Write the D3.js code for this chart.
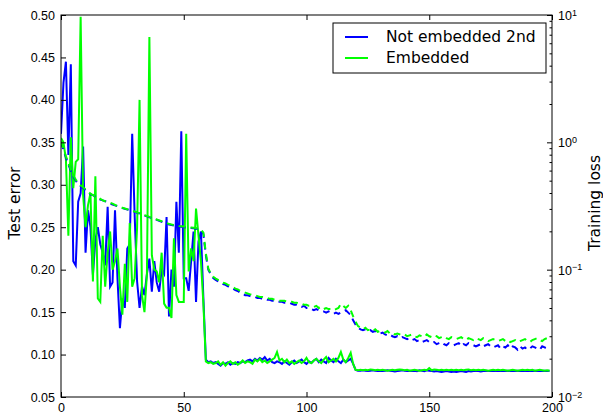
<!DOCTYPE html>
<html>
<head>
<meta charset="utf-8">
<script src="https://cdn.jsdelivr.net/npm/d3@7"></script>
<style>
  body { margin: 0; background: #fff; }
  svg { font-family: "DejaVu Sans", sans-serif; }
</style>
</head>
<body>
<div id="chart"></div>
<script>
// test error, not embedded 2nd (epochs 0..199)
const errNotEmb = [
  0.36, 0.42, 0.445, 0.335, 0.442, 0.21, 0.205, 0.28, 0.29, 0.345,
  0.22, 0.27, 0.25, 0.194, 0.235, 0.25, 0.23, 0.22, 0.205, 0.274,
  0.18, 0.185, 0.27, 0.19, 0.131, 0.166, 0.155, 0.225, 0.23, 0.36,
  0.264, 0.186, 0.155, 0.18, 0.17, 0.195, 0.213, 0.174, 0.21, 0.185,
  0.174, 0.2, 0.195, 0.262, 0.145, 0.2, 0.18, 0.28, 0.22, 0.363,
  0.19, 0.19, 0.175, 0.21, 0.245, 0.162, 0.233, 0.245, 0.166, 0.094,
  0.091, 0.092, 0.090, 0.091, 0.089, 0.087, 0.090, 0.089, 0.091, 0.088,
  0.090, 0.089, 0.091, 0.090, 0.092, 0.091, 0.093, 0.094, 0.092, 0.095,
  0.093, 0.096, 0.094, 0.097, 0.093, 0.095, 0.091, 0.090, 0.092, 0.091,
  0.089, 0.092, 0.090, 0.088, 0.091, 0.093, 0.090, 0.092, 0.094, 0.091,
  0.089, 0.092, 0.090, 0.093, 0.095, 0.091, 0.094, 0.092, 0.090, 0.096,
  0.093, 0.091, 0.095, 0.092, 0.090, 0.094, 0.091, 0.093, 0.095, 0.089,
  0.082, 0.081, 0.081, 0.0815, 0.081, 0.0805, 0.081, 0.0815, 0.081, 0.0805,
  0.081, 0.0805, 0.081, 0.0815, 0.081, 0.0805, 0.080, 0.0805, 0.081, 0.0815,
  0.081, 0.0805, 0.081, 0.0805, 0.081, 0.0805, 0.0815, 0.081, 0.0805, 0.0815,
  0.081, 0.0805, 0.080, 0.0805, 0.080, 0.0795, 0.080, 0.0805, 0.080, 0.0795,
  0.080, 0.0795, 0.080, 0.0805, 0.080, 0.0795, 0.0805, 0.080, 0.0805, 0.081,
  0.0805, 0.080, 0.0805, 0.081, 0.0805, 0.0805, 0.081, 0.0805, 0.081, 0.0805,
  0.081, 0.0805, 0.081, 0.0805, 0.081, 0.0805, 0.081, 0.0805, 0.0805, 0.081,
  0.0805, 0.081, 0.0805, 0.081, 0.0805, 0.081, 0.0805, 0.081, 0.0805, 0.081
];

// test error, embedded
const errEmb = [
  0.355, 0.35, 0.33, 0.24, 0.356, 0.296, 0.327, 0.33, 0.498, 0.288,
  0.25, 0.276, 0.29, 0.186, 0.31, 0.166, 0.162, 0.24, 0.18, 0.22,
  0.245, 0.20, 0.21, 0.225, 0.18, 0.147, 0.207, 0.162, 0.255, 0.18,
  0.19, 0.25, 0.40, 0.17, 0.15, 0.195, 0.474, 0.217, 0.20, 0.198,
  0.185, 0.22, 0.16, 0.155, 0.155, 0.143, 0.237, 0.17, 0.162, 0.162,
  0.162, 0.36, 0.198, 0.225, 0.21, 0.272, 0.24, 0.21, 0.16, 0.092,
  0.090, 0.091, 0.089, 0.090, 0.092, 0.088, 0.091, 0.087, 0.090, 0.092,
  0.089, 0.091, 0.088, 0.090, 0.093, 0.090, 0.092, 0.091, 0.089, 0.094,
  0.092, 0.095, 0.091, 0.093, 0.090, 0.092, 0.094, 0.096, 0.103, 0.093,
  0.095, 0.091, 0.094, 0.090, 0.092, 0.089, 0.091, 0.093, 0.090, 0.092,
  0.096, 0.091, 0.090, 0.093, 0.095, 0.092, 0.090, 0.094, 0.097, 0.091,
  0.093, 0.095, 0.092, 0.096, 0.103, 0.094, 0.091, 0.096, 0.102, 0.089,
  0.082, 0.0815, 0.082, 0.0815, 0.082, 0.0815, 0.0825, 0.082, 0.0815, 0.082,
  0.0815, 0.082, 0.0815, 0.081, 0.0815, 0.082, 0.0815, 0.082, 0.0825, 0.082,
  0.0815, 0.082, 0.081, 0.0815, 0.082, 0.0815, 0.081, 0.0815, 0.082, 0.0815,
  0.084, 0.0815, 0.0825, 0.082, 0.0815, 0.082, 0.0815, 0.082, 0.0815, 0.082,
  0.0815, 0.082, 0.0815, 0.082, 0.0815, 0.082, 0.0825, 0.0815, 0.082, 0.0815,
  0.082, 0.0815, 0.082, 0.0815, 0.081, 0.0815, 0.082, 0.0815, 0.082, 0.0815,
  0.082, 0.0815, 0.081, 0.0815, 0.082, 0.0815, 0.081, 0.0815, 0.082, 0.0815,
  0.082, 0.0815, 0.082, 0.081, 0.0815, 0.082, 0.0815, 0.081, 0.0815, 0.081
];

// training loss, not embedded 2nd
const lossNotEmb = [
  1.0, 0.87, 0.76, 0.67, 0.6, 0.54, 0.5, 0.47, 0.45, 0.44,
  0.42, 0.41, 0.39, 0.385, 0.375, 0.365, 0.355, 0.35, 0.345, 0.34,
  0.33, 0.325, 0.32, 0.315, 0.31, 0.305, 0.3, 0.297, 0.294, 0.29,
  0.285, 0.28, 0.276, 0.27, 0.266, 0.262, 0.258, 0.254, 0.25, 0.246,
  0.242, 0.238, 0.234, 0.23, 0.226, 0.224, 0.222, 0.22, 0.218, 0.217,
  0.216, 0.214, 0.213, 0.212, 0.211, 0.21, 0.207, 0.205, 0.19, 0.13,
  0.10, 0.092, 0.086, 0.083, 0.081, 0.079, 0.077, 0.076, 0.074, 0.073,
  0.071, 0.069, 0.068, 0.066, 0.065, 0.063, 0.063, 0.062, 0.061, 0.061,
  0.060, 0.060, 0.059, 0.059, 0.058, 0.058, 0.057, 0.057, 0.056, 0.056,
  0.056, 0.055, 0.055, 0.055, 0.054, 0.053, 0.053, 0.052, 0.051, 0.052,
  0.050, 0.050, 0.049, 0.048, 0.049, 0.048, 0.047, 0.047, 0.046, 0.047,
  0.046, 0.045, 0.046, 0.045, 0.046, 0.047, 0.048, 0.046, 0.044, 0.040,
  0.037, 0.035, 0.034, 0.0335, 0.034, 0.033, 0.0335, 0.0325, 0.033, 0.032,
  0.0315, 0.032, 0.031, 0.0305, 0.031, 0.030, 0.0295, 0.030, 0.029, 0.0295,
  0.029, 0.0285, 0.029, 0.028, 0.0285, 0.0275, 0.028, 0.027, 0.0275, 0.028,
  0.027, 0.0265, 0.027, 0.026, 0.0265, 0.027, 0.026, 0.0255, 0.0265, 0.026,
  0.0255, 0.026, 0.0265, 0.025, 0.026, 0.0255, 0.0265, 0.026, 0.0255, 0.025,
  0.0255, 0.026, 0.025, 0.0255, 0.026, 0.025, 0.0245, 0.025, 0.0255, 0.024,
  0.025, 0.0245, 0.0255, 0.024, 0.025, 0.0245, 0.0235, 0.025, 0.024, 0.0245,
  0.0235, 0.024, 0.025, 0.0245, 0.024, 0.0235, 0.025, 0.0245, 0.024, 0.0245
];

// training loss, embedded
const lossEmb = [
  1.02, 0.89, 0.78, 0.69, 0.61, 0.55, 0.51, 0.48, 0.46, 0.445,
  0.425, 0.41, 0.395, 0.385, 0.375, 0.37, 0.36, 0.35, 0.345, 0.34,
  0.335, 0.33, 0.322, 0.317, 0.31, 0.306, 0.302, 0.298, 0.295, 0.29,
  0.286, 0.282, 0.277, 0.272, 0.268, 0.264, 0.26, 0.256, 0.252, 0.248,
  0.244, 0.24, 0.236, 0.232, 0.229, 0.226, 0.224, 0.222, 0.22, 0.219,
  0.218, 0.216, 0.215, 0.214, 0.213, 0.212, 0.21, 0.207, 0.195, 0.135,
  0.102, 0.093, 0.088, 0.085, 0.083, 0.081, 0.079, 0.078, 0.076, 0.075,
  0.073, 0.071, 0.070, 0.068, 0.067, 0.066, 0.065, 0.064, 0.063, 0.063,
  0.062, 0.061, 0.061, 0.060, 0.060, 0.059, 0.059, 0.058, 0.058, 0.057,
  0.057, 0.057, 0.056, 0.056, 0.056, 0.055, 0.055, 0.054, 0.054, 0.053,
  0.053, 0.052, 0.052, 0.051, 0.052, 0.050, 0.051, 0.049, 0.050, 0.049,
  0.049, 0.048, 0.049, 0.050, 0.054, 0.052, 0.050, 0.052, 0.048, 0.043,
  0.039, 0.036, 0.035, 0.034, 0.035, 0.0335, 0.034, 0.033, 0.034, 0.0325,
  0.033, 0.0325, 0.032, 0.033, 0.0315, 0.032, 0.031, 0.0315, 0.031, 0.0305,
  0.031, 0.030, 0.0305, 0.031, 0.030, 0.0295, 0.0305, 0.030, 0.0295, 0.031,
  0.030, 0.0295, 0.0305, 0.030, 0.029, 0.0295, 0.030, 0.029, 0.0285, 0.0295,
  0.029, 0.0285, 0.029, 0.0295, 0.0285, 0.028, 0.029, 0.0285, 0.028, 0.029,
  0.0285, 0.028, 0.029, 0.0285, 0.0275, 0.028, 0.0285, 0.028, 0.0275, 0.028,
  0.0285, 0.0275, 0.028, 0.027, 0.0275, 0.028, 0.027, 0.0275, 0.028, 0.0285,
  0.0275, 0.027, 0.028, 0.0285, 0.029, 0.028, 0.0275, 0.0285, 0.029, 0.028
];

const xTicks = [0, 50, 100, 150, 200];
const errTicks = [0.05, 0.10, 0.15, 0.20, 0.25, 0.30, 0.35, 0.40, 0.45, 0.50];
const lossTicks = [0.01, 0.1, 1, 10];
const lossExps = ["-2", "-1", "0", "1"];
const legendLabels = ["Not embedded 2nd", "Embedded"];

const width = 603, height = 414;
const margin = { top: 15, right: 51, bottom: 17, left: 61 };
const w = width - margin.left - margin.right;
const h = height - margin.top - margin.bottom;

const svg = d3.select("#chart").append("svg")
  .attr("width", width)
  .attr("height", height);

const g = svg.append("g")
  .attr("transform", `translate(${margin.left},${margin.top})`);

const x = d3.scaleLinear().domain([0, 200]).range([0, w]);
const yL = d3.scaleLinear().domain([0.05, 0.50]).range([h, 0]);
const yR = d3.scaleLog().domain([0.01, 10]).range([h, 0]);

g.append("clipPath").attr("id", "clip")
  .append("rect").attr("width", w).attr("height", h);

const plot = g.append("g").attr("clip-path", "url(#clip)");

const errLine = d3.line().x((d, i) => x(i)).y(d => yL(d));
const lossLine = d3.line().x((d, i) => x(i)).y(d => yR(d));

plot.append("path").datum(errNotEmb)
  .attr("d", errLine).attr("fill", "none")
  .attr("stroke", "#0000ff").attr("stroke-width", 2);
plot.append("path").datum(errEmb)
  .attr("d", errLine).attr("fill", "none")
  .attr("stroke", "#00ff00").attr("stroke-width", 2);
plot.append("path").datum(lossNotEmb)
  .attr("d", lossLine).attr("fill", "none")
  .attr("stroke", "#0000ff").attr("stroke-width", 2)
  .attr("stroke-dasharray", "7,5");
plot.append("path").datum(lossEmb)
  .attr("d", lossLine).attr("fill", "none")
  .attr("stroke", "#00ff00").attr("stroke-width", 2)
  .attr("stroke-dasharray", "7,5");

// axes, ticks inward like classic matplotlib
const fs = "12.5px";

g.append("g").attr("transform", `translate(0,${h})`)
  .call(d3.axisBottom(x).tickValues(xTicks).tickSize(-5).tickPadding(6))
  .call(a => a.select(".domain").remove())
  .call(a => a.selectAll("text").attr("font-size", fs).attr("fill", "#000"));

g.append("g")
  .call(d3.axisTop(x).tickValues(xTicks).tickSize(-5).tickFormat(""))
  .call(a => a.select(".domain").remove());

g.append("g")
  .call(d3.axisLeft(yL).tickValues(errTicks).tickSize(-5).tickPadding(6).tickFormat(d3.format(".2f")))
  .call(a => a.select(".domain").remove())
  .call(a => a.selectAll("text").attr("font-size", fs).attr("fill", "#000"));

const minor = [];
for (let e = -2; e < 1; e++) {
  for (let k = 2; k <= 9; k++) minor.push(k * Math.pow(10, e));
}

g.append("g").attr("transform", `translate(${w},0)`)
  .call(d3.axisRight(yR).tickValues(minor).tickSize(-2.5).tickFormat(""))
  .call(a => a.select(".domain").remove());

const rAxis = g.append("g").attr("transform", `translate(${w},0)`)
  .call(d3.axisRight(yR).tickValues(lossTicks).tickSize(-5).tickFormat(""))
  .call(a => a.select(".domain").remove());

rAxis.selectAll(".tick").append("text")
  .attr("x", 6).attr("dy", "0.35em")
  .attr("fill", "#000").attr("font-size", fs).attr("text-anchor", "start")
  .each(function(d, i) {
    const t = d3.select(this);
    t.append("tspan").text("10");
    t.append("tspan").attr("dy", "-0.45em").attr("font-size", "9px").text(lossExps[i].replace("-", "\u2212"));
  });

g.append("rect")
  .attr("width", w).attr("height", h)
  .attr("fill", "none").attr("stroke", "#000").attr("stroke-width", 1);

// axis labels
svg.append("text")
  .attr("transform", `translate(19.5,${margin.top + h / 2 - 3}) rotate(-90)`)
  .attr("text-anchor", "middle").attr("font-size", "15.5px")
  .text("Test error");

svg.append("text")
  .attr("transform", `translate(600,${margin.top + h / 2 - 3}) rotate(-90)`)
  .attr("text-anchor", "middle").attr("font-size", "15.5px")
  .text("Training loss");

// legend
const legend = svg.append("g").attr("transform", "translate(333,23)");
legend.append("rect")
  .attr("width", 213).attr("height", 50)
  .attr("fill", "#fff").attr("stroke", "#000").attr("stroke-width", 1);

const items = legend.selectAll(".item")
  .data(legendLabels)
  .enter().append("g")
  .attr("class", "item")
  .attr("transform", (d, i) => `translate(0,${14 + i * 21})`);

items.append("line")
  .attr("x1", 12).attr("x2", 35)
  .attr("stroke", (d, i) => i === 0 ? "#0000ff" : "#00ff00")
  .attr("stroke-width", 2);

items.append("text")
  .attr("x", 53).attr("dy", "0.35em")
  .attr("font-size", "15.5px")
  .text(d => d);
</script>
</body>
</html>
